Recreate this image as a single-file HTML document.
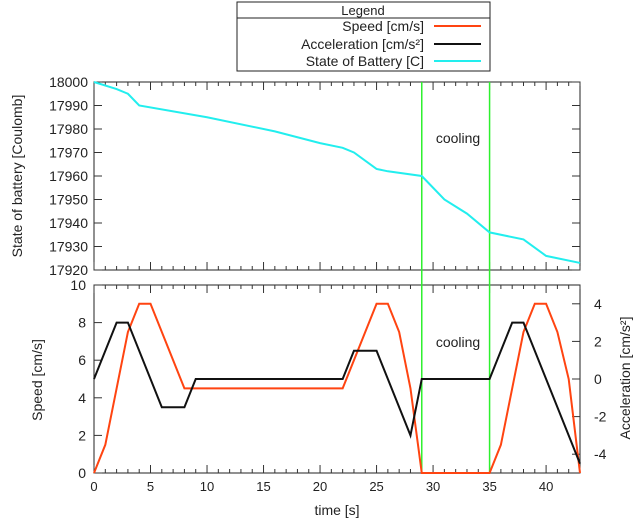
<!DOCTYPE html>
<html><head><meta charset="utf-8"><style>
body{margin:0;background:#fff;font-family:"Liberation Sans",sans-serif}
svg text{font-family:"Liberation Sans",sans-serif;fill:#222}
</style></head><body>
<svg id="c" width="640" height="522" xmlns="http://www.w3.org/2000/svg"></svg>
<script>
const speedX=[0,1,2,3,4,5,8,22,25,26,27,28,29,35,36,37,38,39,40,41,42,43];
const speedY=[0,1.5,4.5,7.5,9,9,4.5,4.5,9,9,7.5,4.5,0,0,1.5,4.5,7.5,9,9,7.5,5,0];
const accX=[0,2,3,6,8,9,22,23,25,28,29,35,37,38,43];
const accY=[0,3,3,-1.5,-1.5,0,0,1.5,1.5,-3,0,0,3,3,-4.5];
const batX=[0,2,3,4,10,16,20,22,23,25,26,29,31,33,35,38,40,43];
const batY=[18000,17997,17995,17990,17985,17979,17974,17972,17970,17963,17962,17960,17950,17944,17936,17933,17926,17923];
const coolingX=[29,35];
const xTicks=[0,5,10,15,20,25,30,35,40];
const batTicks=[17920,17930,17940,17950,17960,17970,17980,17990,18000];
const speedTicks=[0,2,4,6,8,10];
const accTicks=[-4,-2,0,2,4];

const L=94,R=580,T1=82,B1=270,T2=285,B2=473;
const sx=v=>L+(v/43)*(R-L);
const sb=v=>B1-(v-17920)/80*(B1-T1);
const ss=v=>B2-v/10*(B2-T2);
const sa=v=>B2-(v+5)/10*(B2-T2);
const svg=document.getElementById('c');
const NS='http://www.w3.org/2000/svg';
function mk(t,a,p){const e=document.createElementNS(NS,t);for(const k in a)e.setAttribute(k,a[k]);(p||svg).appendChild(e);return e;}
function txt(x,y,s,anchor,size,rot){const e=mk('text',{x:x,y:y,'text-anchor':anchor||'middle','font-size':size||13});if(rot)e.setAttribute('transform','rotate(-90 '+x+' '+y+')');e.textContent=s;return e;}

let f=mk('rect',{x:L,y:T1,width:R-L,height:B1-T1,fill:'none',stroke:'#222','stroke-width':1});

f=mk('rect',{x:L,y:T2,width:R-L,height:B2-T2,fill:'none',stroke:'#222','stroke-width':1});


for(let i=0;i<=43;i++){const x=sx(i);const len=(i%5==0)?8:4;
 mk('line',{x1:x,y1:B1,x2:x,y2:B1-len,stroke:'#333'});mk('line',{x1:x,y1:T1,x2:x,y2:T1+len,stroke:'#333'});
 mk('line',{x1:x,y1:B2,x2:x,y2:B2-len,stroke:'#333'});mk('line',{x1:x,y1:T2,x2:x,y2:T2+len,stroke:'#333'});}
xTicks.forEach(v=>{const t=txt(sx(v),491,v);});
batTicks.forEach(v=>{const y=sb(v);mk('line',{x1:L,y1:y,x2:L+8,y2:y,stroke:'#333'});mk('line',{x1:R,y1:y,x2:R-8,y2:y,stroke:'#333'});
 const t=txt(L-6,y+5,v,'end',14);});
speedTicks.forEach(v=>{const y=ss(v);mk('line',{x1:L,y1:y,x2:L+8,y2:y,stroke:'#333'});
 const t=txt(L-8,y+5,v,'end',14);});
accTicks.forEach(v=>{const y=sa(v);mk('line',{x1:R,y1:y,x2:R-8,y2:y,stroke:'#333'});
 const t=txt(R+14,y+5,v,'start',14);});

let t=txt(22,176,'State of battery [Coulomb]','middle',14,true);
t=txt(42,380,'Speed [cm/s]','middle',14,true);
t=txt(630,378,'Acceleration [cm/s²]','middle',14,true);
t=txt(337,515,'time [s]','middle',14);

coolingX.forEach(v=>{const l=mk('line',{x1:sx(v),y1:T1,x2:sx(v),y2:B2,stroke:'#2ef02e','stroke-width':1.5});
 });
t=txt(458,143,'cooling','middle',14);
t=txt(458,347,'cooling','middle',14);

function line(xs,ys,fy,c,name){const d=xs.map((x,i)=>sx(x)+','+fy(ys[i])).join(' ');
 const p=mk('polyline',{points:d,fill:'none',stroke:c,'stroke-width':2});
 }
line(batX,batY,sb,'#22eeee','battery-line');
line(speedX,speedY,ss,'#ff4411','speed-line');
line(accX,accY,sa,'#111','acceleration-line');

const lg=mk('g',{});
mk('rect',{x:237,y:2,width:253,height:69,fill:'#fff',stroke:'#222'},lg);
mk('line',{x1:237,y1:18,x2:490,y2:18,stroke:'#222'},lg);
const tt=mk('text',{x:363,y:15,'text-anchor':'middle','font-size':13},lg);tt.textContent='Legend';
const le=[['Speed [cm/s]','#ff4411',31],['Acceleration [cm/s²]','#111',49],['State of Battery [C]','#22eeee',66]];
le.forEach(e=>{const g=mk('g',{},lg);
 const s=mk('text',{x:424,y:e[2],'text-anchor':'end','font-size':14},g);s.textContent=e[0];
 mk('line',{x1:434,y1:e[2]-5,x2:481,y2:e[2]-5,stroke:e[1],'stroke-width':2},g);});
</script>
</body></html>
